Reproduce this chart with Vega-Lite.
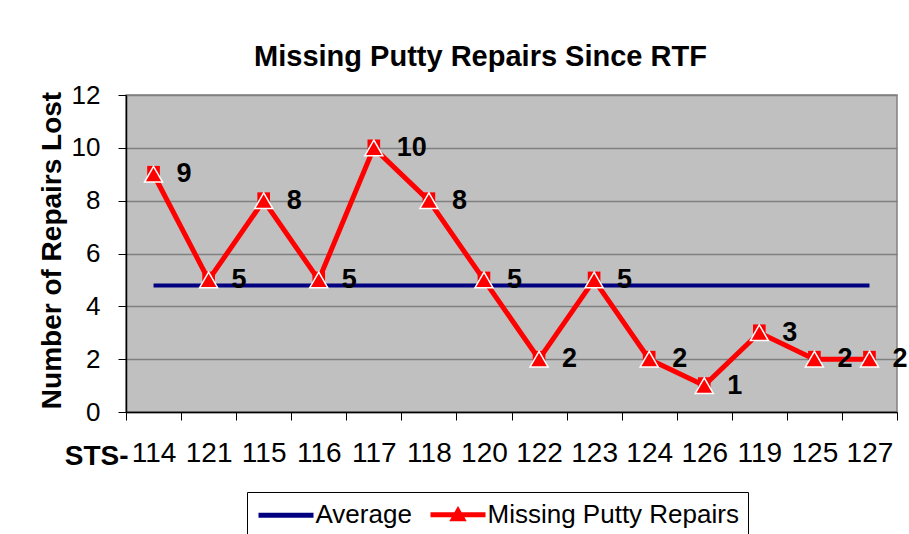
{
  "$schema": "https://vega.github.io/schema/vega-lite/v6.json",
  "width": 771,
  "height": 317,
  "autosize": "none",
  "padding": {"left": 126, "top": 95, "right": 12, "bottom": 122},
  "background": "white",
  "config": {
    "font": "Liberation Sans",
    "view": {"fill": "#C0C0C0", "stroke": "#808080", "strokeWidth": 1.5}
  },
  "title": {
    "text": "Missing Putty Repairs Since RTF",
    "fontSize": 29,
    "fontWeight": "bold",
    "font": "Liberation Sans",
    "color": "black",
    "anchor": "middle",
    "dx": -31,
    "dy": 43,
    "offset": 30,
    "baseline": "alphabetic"
  },
  "data": {
    "values": [
      {"sts": "114", "repairs": 9, "average": 4.786},
      {"sts": "121", "repairs": 5, "average": 4.786},
      {"sts": "115", "repairs": 8, "average": 4.786},
      {"sts": "116", "repairs": 5, "average": 4.786},
      {"sts": "117", "repairs": 10, "average": 4.786},
      {"sts": "118", "repairs": 8, "average": 4.786},
      {"sts": "120", "repairs": 5, "average": 4.786},
      {"sts": "122", "repairs": 2, "average": 4.786},
      {"sts": "123", "repairs": 5, "average": 4.786},
      {"sts": "124", "repairs": 2, "average": 4.786},
      {"sts": "126", "repairs": 1, "average": 4.786},
      {"sts": "119", "repairs": 3, "average": 4.786},
      {"sts": "125", "repairs": 2, "average": 4.786},
      {"sts": "127", "repairs": 2, "average": 4.786}
    ]
  },
  "encoding": {
    "x": {
      "field": "sts",
      "type": "ordinal",
      "sort": null,
      "bandPosition": 0.5,
      "scale": {"type": "band", "paddingInner": 0, "paddingOuter": 0},
      "axis": {
        "tickBand": "extent",
        "labelAngle": 0,
        "labelFontSize": 28,
        "labelColor": "black",
        "labelPadding": 19,
        "labelBaseline": "top",
        "tickColor": "black",
        "tickSize": 8,
        "domainColor": "black",
        "domainWidth": 1.5,
        "grid": false,
        "title": "STS-",
        "titleFontSize": 28,
        "titleFontWeight": "bold",
        "titleColor": "black",
        "titleAlign": "right",
        "titleBaseline": "alphabetic",
        "titleX": 2,
        "titleY": 52
      }
    }
  },
  "layer": [
    {
      "mark": {"type": "line", "strokeWidth": 4},
      "encoding": {
        "y": {
          "field": "average",
          "type": "quantitative",
          "scale": {"domain": [0, 12], "nice": false},
          "axis": {
            "values": [0, 2, 4, 6, 8, 10, 12],
            "labelFontSize": 26,
            "labelColor": "black",
            "labelPadding": 18,
            "tickColor": "black",
            "tickSize": 8,
            "domainColor": "black",
            "domainWidth": 1.5,
            "gridColor": "#808080",
            "gridWidth": 1.5,
            "title": "Number of Repairs Lost",
            "titleFontSize": 28,
            "titleFontWeight": "bold",
            "titleColor": "black",
            "titleAngle": -90,
            "titleAlign": "center",
            "titleBaseline": "alphabetic",
            "titleX": -66,
            "titleY": 155
          }
        },
        "color": {
          "datum": "Average",
          "scale": {"domain": ["Average", "Missing Putty Repairs"], "range": ["#000080", "#FF0000"]},
          "legend": {
            "title": null,
            "orient": "none",
            "legendX": 121,
            "legendY": 397,
            "direction": "horizontal",
            "strokeColor": "black",
            "padding": 9,
            "labelFontSize": 26,
            "labelColor": "black",
            "labelLimit": 400,
            "symbolType": "M-2.5,0H2.5",
            "symbolSize": 484,
            "symbolStrokeWidth": 5,
            "symbolFillColor": "#FF0000",
            "symbolOffset": 16.5,
            "columnPadding": 8,
            "labelOffset": 16,
            "encode": {
              "symbols": {
                "update": {
                  "shape": {"signal": "datum.label === 'Average' ? 'M-2.5,0H2.5' : 'M-2.5,0H2.5M-0.4,0.35L0,-0.35L0.4,0.35Z'"},
                  "fill": {"signal": "datum.label === 'Average' ? 'transparent' : '#FF0000'"}
                }
              }
            }
          }
        }
      }
    },
    {
      "mark": {"type": "line", "strokeWidth": 5},
      "encoding": {
        "y": {"field": "repairs", "type": "quantitative"},
        "color": {"datum": "Missing Putty Repairs"}
      }
    },
    {
      "mark": {"type": "point", "shape": "square", "filled": true, "color": "#FF0000", "size": 160, "opacity": 1, "yOffset": -2},
      "encoding": {"y": {"field": "repairs", "type": "quantitative"}}
    },
    {
      "mark": {"type": "point", "shape": "triangle-up", "filled": true, "fill": "#FF0000", "stroke": "white", "strokeWidth": 1.5, "size": 324, "opacity": 1},
      "encoding": {"y": {"field": "repairs", "type": "quantitative"}}
    },
    {
      "mark": {"type": "text", "align": "left", "dx": 23, "fontSize": 27, "fontWeight": "bold", "baseline": "middle", "color": "black"},
      "encoding": {
        "y": {"field": "repairs", "type": "quantitative"},
        "text": {"field": "repairs", "type": "quantitative"}
      }
    }
  ]
}
